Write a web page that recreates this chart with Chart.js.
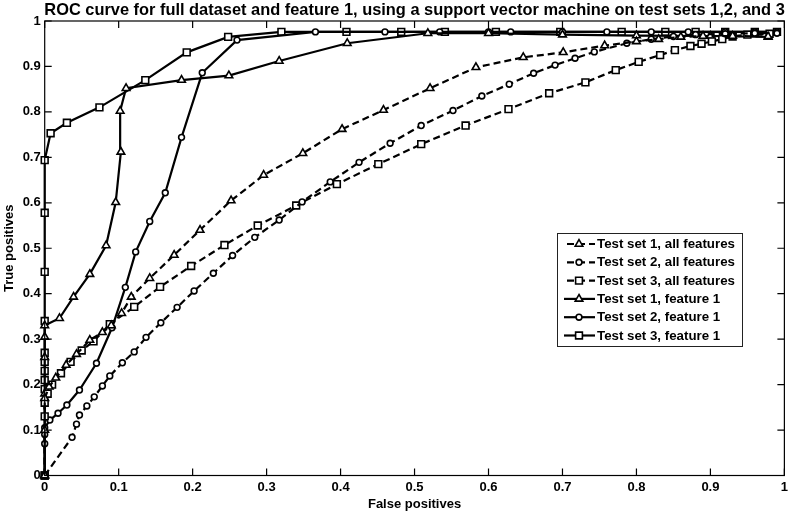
<!DOCTYPE html>
<html>
<head>
<meta charset="utf-8">
<title>ROC curve</title>
<script src="https://cdn.jsdelivr.net/npm/chart.js@4.4.0/dist/chart.umd.min.js"></script>
<style>
  html, body { margin: 0; padding: 0; background: #fff; }
  canvas { display: block; }
</style>
</head>
<body>
<canvas id="rocChart" width="792" height="513"></canvas>
<script>
const chartTitle = "ROC curve for full dataset and feature 1, using a support vector machine on test sets 1,2, and 3";
const tickValues = [0, 0.1, 0.2, 0.3, 0.4, 0.5, 0.6, 0.7, 0.8, 0.9, 1];

const seriesLabels = [
    "Test set 1, all features",
    "Test set 2, all features",
    "Test set 3, all features",
    "Test set 1, feature 1",
    "Test set 2, feature 1",
    "Test set 3, feature 1"
];

// test set 1, all features
const fp1All = [0, 0, 0, 0.006, 0.015, 0.029, 0.043, 0.061, 0.078, 0.090, 0.104, 0.117, 0.142, 0.175, 0.21, 0.252, 0.296, 0.349, 0.402, 0.458, 0.521, 0.583, 0.647, 0.701, 0.757, 0.80, 0.83, 0.86, 0.89, 0.93, 0.978];
const tp1All = [0, 0.10, 0.17, 0.195, 0.215, 0.243, 0.267, 0.298, 0.315, 0.33, 0.357, 0.393, 0.434, 0.485, 0.54, 0.605, 0.661, 0.709, 0.762, 0.804, 0.852, 0.898, 0.920, 0.931, 0.946, 0.955, 0.96, 0.965, 0.967, 0.967, 0.966];

// test set 2, all features
const fp2All = [0, 0.037, 0.043, 0.047, 0.057, 0.067, 0.078, 0.088, 0.105, 0.121, 0.137, 0.157, 0.179, 0.202, 0.228, 0.254, 0.284, 0.317, 0.348, 0.386, 0.425, 0.467, 0.509, 0.552, 0.591, 0.628, 0.661, 0.69, 0.717, 0.743, 0.787, 0.82, 0.85, 0.88, 0.92, 0.96, 0.99];
const tp2All = [0, 0.084, 0.113, 0.133, 0.153, 0.173, 0.197, 0.219, 0.248, 0.272, 0.304, 0.336, 0.37, 0.406, 0.445, 0.484, 0.524, 0.562, 0.602, 0.646, 0.689, 0.731, 0.77, 0.803, 0.835, 0.861, 0.885, 0.903, 0.918, 0.932, 0.951, 0.96, 0.966, 0.97, 0.972, 0.973, 0.973];

// test set 3, all features
const fp3All = [0, 0, 0, 0.004, 0.01, 0.022, 0.035, 0.05, 0.066, 0.088, 0.121, 0.156, 0.198, 0.243, 0.288, 0.34, 0.395, 0.451, 0.509, 0.569, 0.627, 0.682, 0.731, 0.772, 0.803, 0.832, 0.852, 0.873, 0.888, 0.902, 0.916, 0.93, 0.95, 0.98];
const tp3All = [0, 0.13, 0.16, 0.18, 0.20, 0.225, 0.25, 0.275, 0.295, 0.333, 0.371, 0.415, 0.461, 0.507, 0.55, 0.594, 0.641, 0.685, 0.729, 0.77, 0.806, 0.841, 0.865, 0.892, 0.91, 0.925, 0.936, 0.945, 0.95, 0.955, 0.96, 0.966, 0.97, 0.972];

// test set 1, feature 1
const fp1F1 = [0, 0, 0, 0, 0, 0.02, 0.039, 0.061, 0.083, 0.096, 0.103, 0.102, 0.110, 0.185, 0.249, 0.317, 0.409, 0.518, 0.6, 0.7, 0.8, 0.9, 0.978];
const tp1F1 = [0, 0.18, 0.26, 0.305, 0.33, 0.346, 0.393, 0.443, 0.506, 0.601, 0.712, 0.802, 0.852, 0.870, 0.880, 0.912, 0.951, 0.973, 0.973, 0.97, 0.968, 0.967, 0.965];

// test set 2, feature 1
const fp2F1 = [0, 0, 0, 0, 0.007, 0.018, 0.030, 0.047, 0.070, 0.091, 0.109, 0.123, 0.142, 0.163, 0.185, 0.213, 0.260, 0.366, 0.46, 0.534, 0.6, 0.63, 0.7, 0.76, 0.82, 0.87, 0.92, 0.96, 0.99];
const tp2F1 = [0, 0.07, 0.09, 0.105, 0.122, 0.137, 0.155, 0.188, 0.247, 0.325, 0.414, 0.492, 0.559, 0.622, 0.744, 0.886, 0.958, 0.976, 0.976, 0.976, 0.976, 0.976, 0.976, 0.976, 0.976, 0.976, 0.976, 0.976, 0.976];

// test set 3, feature 1
const fp3F1 = [0, 0, 0, 0, 0, 0, 0, 0, 0, 0, 0.008, 0.030, 0.074, 0.136, 0.192, 0.248, 0.320, 0.408, 0.482, 0.541, 0.61, 0.697, 0.78, 0.839, 0.88, 0.92, 0.96, 0.99];
const tp3F1 = [0, 0.19, 0.21, 0.23, 0.25, 0.27, 0.34, 0.448, 0.578, 0.694, 0.753, 0.776, 0.81, 0.870, 0.931, 0.965, 0.976, 0.976, 0.976, 0.976, 0.976, 0.976, 0.976, 0.976, 0.976, 0.976, 0.976, 0.976];

const toPoints = (xs, ys) => xs.map((x, i) => ({ x: x, y: ys[i] }));

const FONT = "'Liberation Sans', Arial, Helvetica, sans-serif";
const markerSize = { triangle: 4.4, circle: 2.9, rect: 4.8 };

function rocSet(label, xs, ys, style, dashed) {
    return {
        label: label,
        data: toPoints(xs, ys),
        showLine: true,
        borderColor: "#000",
        borderWidth: 2.2,
        borderDash: dashed ? [7, 4] : [],
        pointStyle: style,
        pointRadius: markerSize[style],
        pointBackgroundColor: "#fff",
        pointBorderColor: "#000",
        pointBorderWidth: 1.6,
        clip: false
    };
}

const datasets = [
    rocSet(seriesLabels[0], fp1All, tp1All, "triangle", true),
    rocSet(seriesLabels[1], fp2All, tp2All, "circle", true),
    rocSet(seriesLabels[2], fp3All, tp3All, "rect", true),
    rocSet(seriesLabels[3], fp1F1, tp1F1, "triangle", false),
    rocSet(seriesLabels[4], fp2F1, tp2F1, "circle", false),
    rocSet(seriesLabels[5], fp3F1, tp3F1, "rect", false)
];

// matlab-ish frame: box, inward ticks, title and boxed legend
const matlabFrame = {
    id: "matlabFrame",
    afterDraw(chart) {
        const { ctx, chartArea: a, scales } = chart;
        ctx.save();
        ctx.strokeStyle = "#000";
        ctx.lineWidth = 1.2;
        ctx.setLineDash([]);
        ctx.strokeRect(a.left, a.top, a.right - a.left, a.bottom - a.top);

        const len = 7;
        ctx.beginPath();
        tickValues.forEach(v => {
            const x = scales.x.getPixelForValue(v);
            ctx.moveTo(x, a.bottom); ctx.lineTo(x, a.bottom - len);
            ctx.moveTo(x, a.top); ctx.lineTo(x, a.top + len);
            const y = scales.y.getPixelForValue(v);
            ctx.moveTo(a.left, y); ctx.lineTo(a.left + len, y);
            ctx.moveTo(a.right, y); ctx.lineTo(a.right - len, y);
        });
        ctx.stroke();

        ctx.fillStyle = "#000";
        ctx.font = "bold 16.4px " + FONT;
        ctx.textAlign = "center";
        ctx.textBaseline = "middle";
        ctx.fillText(chartTitle, (a.left + a.right) / 2, 10);

        // legend box
        const bx = 557, by = 233, bw = 185, bh = 113;
        ctx.fillStyle = "#fff";
        ctx.fillRect(bx, by, bw, bh);
        ctx.lineWidth = 1;
        ctx.strokeStyle = "#222";
        ctx.strokeRect(bx + 0.5, by + 0.5, bw, bh);

        ctx.font = "bold 13.3px " + FONT;
        ctx.textAlign = "left";
        chart.data.datasets.forEach((ds, i) => {
            const y = by + 11 + i * 18.3;
            ctx.strokeStyle = "#000";
            ctx.lineWidth = 2.2;
            ctx.setLineDash(ds.borderDash);
            ctx.beginPath();
            ctx.moveTo(ds.borderDash.length ? 567 : 564, y);
            ctx.lineTo(595, y);
            ctx.stroke();
            ctx.setLineDash([]);
            ctx.fillStyle = "#fff";
            ctx.lineWidth = 1.6;
            Chart.helpers.drawPoint(ctx, {
                pointStyle: ds.pointStyle,
                radius: ds.pointRadius,
                rotation: 0,
                borderWidth: 1.6
            }, 579, y);
            ctx.fillStyle = "#000";
            ctx.fillText(ds.label, 597, y + 0.5);
        });
        ctx.restore();
    }
};

const tickFont = { family: FONT, size: 13, weight: "bold" };

new Chart(document.getElementById("rocChart").getContext("2d"), {
    type: "scatter",
    data: { datasets: datasets },
    options: {
        responsive: false,
        animation: false,
        layout: { padding: { top: 21, right: 4, left: 0, bottom: 0 } },
        plugins: {
            legend: { display: false },
            title: { display: false },
            tooltip: { enabled: false }
        },
        scales: {
            x: {
                type: "linear",
                min: 0,
                max: 1,
                afterBuildTicks: s => { s.ticks = tickValues.map(v => ({ value: v })); },
                afterFit: s => { s.height = 37.5; },
                grid: { display: false, drawTicks: false },
                border: { display: false },
                ticks: {
                    color: "#000",
                    font: tickFont,
                    padding: 4,
                    maxRotation: 0,
                    callback: v => String(Number(v.toFixed(1)))
                },
                title: {
                    display: true,
                    text: "False positives",
                    color: "#000",
                    font: { family: FONT, size: 13, weight: "bold" },
                    padding: { top: 0, bottom: 1 }
                }
            },
            y: {
                type: "linear",
                min: 0,
                max: 1,
                afterBuildTicks: s => { s.ticks = tickValues.map(v => ({ value: v })); },
                afterFit: s => { s.width = 44.7; },
                grid: { display: false, drawTicks: false },
                border: { display: false },
                ticks: {
                    color: "#000",
                    font: tickFont,
                    padding: 4,
                    callback: v => String(Number(v.toFixed(1)))
                },
                title: {
                    display: true,
                    text: "True positives",
                    color: "#000",
                    font: { family: FONT, size: 13, weight: "bold" },
                    padding: { top: 2, bottom: 0 }
                }
            }
        }
    },
    plugins: [matlabFrame]
});
</script>
</body>
</html>
